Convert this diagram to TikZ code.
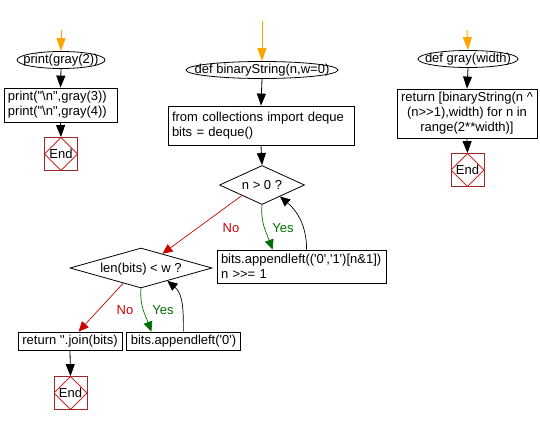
\documentclass[tikz,border=0pt]{standalone}
\usepackage{fontspec}
\newfontfamily\arialf{Liberation Sans}
\usetikzlibrary{shapes.geometric,arrows.meta,calc}
\definecolor{orng}{RGB}{255,165,0}
\definecolor{nored}{RGB}{204,0,0}
\definecolor{yesgreen}{RGB}{0,110,0}
\definecolor{endbrd}{RGB}{160,40,40}
\definecolor{enddia}{RGB}{200,40,40}
\begin{document}
\begin{tikzpicture}[x=1pt,y=-1pt,
  every node/.style={font=\arialf\fontsize{13}{15}\selectfont},
  startell/.style={ellipse,draw,line width=0.8pt,inner sep=0pt,text height=9pt,text depth=1pt,minimum height=17pt},
  procbox/.style={rectangle,draw,line width=0.8pt,inner xsep=4pt,inner ysep=0pt},
  decide/.style={diamond,draw,line width=0.8pt,inner sep=0pt,text height=9pt,text depth=1pt},
  endbox/.style={rectangle,draw=endbrd,line width=0.8pt,minimum size=33pt,inner sep=0pt,
    path picture={\draw[enddia,line width=0.8pt] (path picture bounding box.north) -- (path picture bounding box.east) -- (path picture bounding box.south) -- (path picture bounding box.west) -- cycle;}},
  flow/.style={line width=0.8pt,-{Triangle[length=12pt,width=9pt]}},
  startflow/.style={orng,line width=0.9pt,-{Triangle[length=13pt,width=9pt]}},
  noflow/.style={nored,line width=0.7pt,-{Triangle[length=10pt,width=9pt]}},
  yesflow/.style={yesgreen,line width=0.7pt,-{Triangle[length=10pt,width=9pt]}},
  backflow/.style={black,line width=0.7pt,-{Triangle[length=10pt,width=9pt]}},
  nolab/.style={text=nored},
  yeslab/.style={text=yesgreen}
]
\useasboundingbox (0,0) rectangle (540,425);
% left column
\coordinate (o1) at (61,30);
\node[startell,minimum width=88pt] (e1) at (61,60) {\makebox[0pt]{print(gray(2))}};
\node[procbox,text width=105pt,minimum height=34pt,align=left] (b1) at (60.5,105) {print("\textbackslash n",gray(3))\\print("\textbackslash n",gray(4))};
\node[endbox] (end1) at (61,154) {End};
\draw[startflow] (o1) -- (e1.north);
\draw[flow] (e1.south) -- (b1.north);
\draw[flow] (b1.south) -- (end1.north);
% middle column
\coordinate (o2) at (262,21);
\node[startell,minimum width=152pt] (e2) at (262,70) {\makebox[0pt]{def binaryString(n,w=0)}};
\node[procbox,text width=178pt,minimum height=39pt,align=left] (b2) at (261,125.5) {from collections import deque\\bits = deque()};
\node[decide,minimum width=85pt,minimum height=39pt] (d1) at (262,185) {\makebox[0pt]{n > 0 ?}};
\node[procbox,text width=161pt,minimum height=33pt,align=left] (b3) at (301.5,266.5) {bits.appendleft(('0','1')[n\&1])\\n >>= 1};
\node[decide,minimum width=142pt,minimum height=40pt] (d2) at (141,268) {\makebox[0pt]{len(bits) < w ?}};
\node[procbox,minimum width=104pt,minimum height=18pt] (b4) at (70,341) {return ''.join(bits)};
\node[procbox,minimum width=111pt,minimum height=18pt] (b5) at (183.5,341) {bits.appendleft('0')};
\node[endbox] (end2) at (70.5,393) {End};
\draw[startflow] (o2) -- (e2.north);
\draw[flow] (e2.south) -- (b2.north);
\draw[flow] (b2.south) -- (d1.north);
\draw[yesflow] (d1.south) to[out=-95,in=110] ([xshift=56pt]b3.north west);
\draw[backflow] ([xshift=90pt]b3.north west) to[out=90,in=-40] ($(d1.east)!0.58!(d1.south)$);
\draw[noflow] ($(d1.west)!0.53!(d1.south)$) -- ($(d2.north)!0.3!(d2.east)$);
\node[nolab] (no1) at (231,228) {No};
\node[yeslab] (yes1) at (283,228) {Yes};
\draw[noflow] ($(d2.west)!0.75!(d2.south)$) -- ([xshift=61pt]b4.north west);
\draw[yesflow] (d2.south) to[out=-95,in=110] ([xshift=25pt]b5.north west);
\draw[backflow] ([xshift=57pt]b5.north west) to[out=90,in=-40] ($(d2.east)!0.63!(d2.south)$);
\draw[flow] (b4.south) -- (end2.north);
\node[nolab] (no2) at (125,310) {No};
\node[yeslab] (yes2) at (163,310) {Yes};
% right column
\coordinate (o3) at (467,30);
\node[startell,minimum width=100pt] (e3) at (468,59) {\makebox[0pt]{def gray(width)}};
\node[procbox,minimum width=140pt,minimum height=49pt,align=center] (b6) at (467,113.5) {return [binaryString(n \textasciicircum\\(n>>1),width) for n in\\range(2**width)]};
\node[endbox] (end3) at (467.5,170) {End};
\draw[startflow] (o3) -- (e3.north);
\draw[flow] (e3.south) -- (b6.north);
\draw[flow] (b6.south) -- (end3.north);
\end{tikzpicture}
\end{document}
